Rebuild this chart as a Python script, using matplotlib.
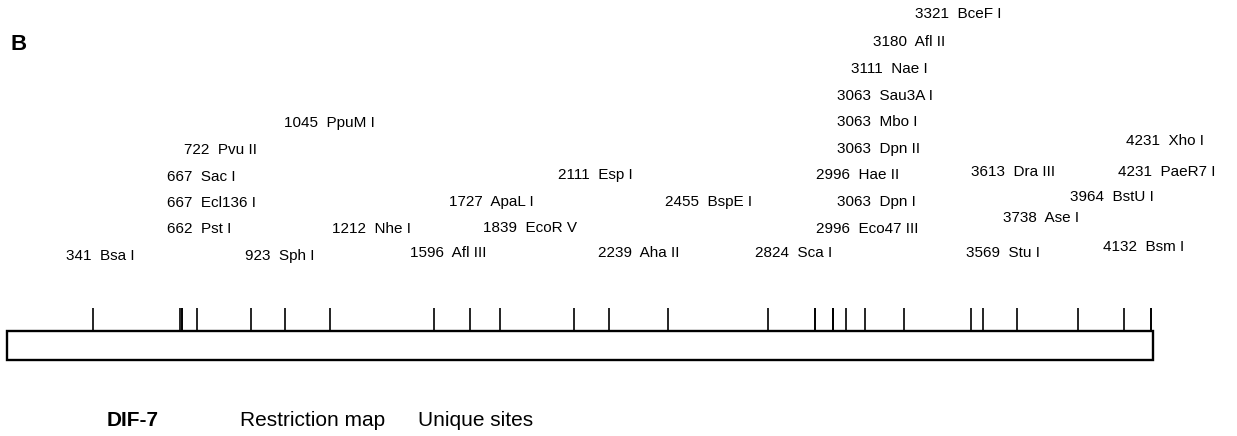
from matplotlib import pyplot as plt
from matplotlib.patches import Rectangle

# unique restriction sites of DIF-7
sites = [341, 662, 667, 667, 722, 923, 1045, 1212, 1596, 1727, 1839, 2111,
         2239, 2455, 2824, 2996, 2996, 3063, 3063, 3063, 3063, 3111, 3180,
         3321, 3569, 3613, 3738, 3964, 4132, 4231, 4231]
enzymes = ['Bsa I', 'Pst I', 'Ecl136 I', 'Sac I', 'Pvu II', 'Sph I', 'PpuM I',
           'Nhe I', 'Afl III', 'ApaL I', 'EcoR V', 'Esp I', 'Aha II', 'BspE I',
           'Sca I', 'Eco47 III', 'Hae II', 'Dpn I', 'Dpn II', 'Mbo I',
           'Sau3A I', 'Nae I', 'Afl II', 'BceF I', 'Stu I', 'Dra III', 'Ase I',
           'BstU I', 'Bsm I', 'PaeR7 I', 'Xho I']
map_start = 25
map_end = 4238

# label placement (pixels, left edge / middle)
label_x = [66, 167, 167, 167, 184, 245, 284, 332, 410, 449, 483, 558, 598,
           665, 755, 816, 816, 837, 837, 837, 837, 851, 873, 915, 966, 971,
           1003, 1070, 1103, 1118, 1126]
label_y = [256, 229, 203, 177, 150, 256, 123, 229, 253, 202, 228, 175, 253,
           202, 253, 229, 175, 202, 149, 122, 96, 69, 42, 14, 253, 172, 218,
           197, 247, 172, 141]

W, H = 1237, 436
px_per_bp = 0.27198

fig = plt.figure(figsize=(W / 100, H / 100), dpi=100)
ax = fig.add_axes([0, 0, 1, 1])
ax.set_xlim(-0.3 / px_per_bp, (W - 0.3) / px_per_bp)
ax.set_ylim(H, 0)
ax.axis('off')

# sequence bar
ax.add_patch(Rectangle((map_start, 330.5), map_end - map_start, 29.5,
                       fill=False, edgecolor='black', linewidth=1.7))
ax.vlines(sites, 308, 330.5, colors='black', linewidth=1.2)

# labels in pixel space
tx = fig.add_axes([0, 0, 1, 1])
tx.set_xlim(0, W)
tx.set_ylim(H, 0)
tx.axis('off')
tx.patch.set_alpha(0)

for pos, name, x, y in zip(sites, enzymes, label_x, label_y):
    tx.text(x, y, '%d  %s' % (pos, name), fontsize=11,
            family='Liberation Sans', ha='left', va='center')

tx.text(10, 45, 'B', fontsize=16, fontweight='bold',
        family='Liberation Sans', ha='left', va='center')
tx.text(107, 420, 'DIF-7', fontsize=15, fontweight='bold',
        family='Liberation Sans', ha='left', va='center')
tx.text(240, 420, 'Restriction map', fontsize=15,
        family='Liberation Sans', ha='left', va='center')
tx.text(418, 420, 'Unique sites', fontsize=15,
        family='Liberation Sans', ha='left', va='center')

fig.savefig('out.png', dpi=100)
